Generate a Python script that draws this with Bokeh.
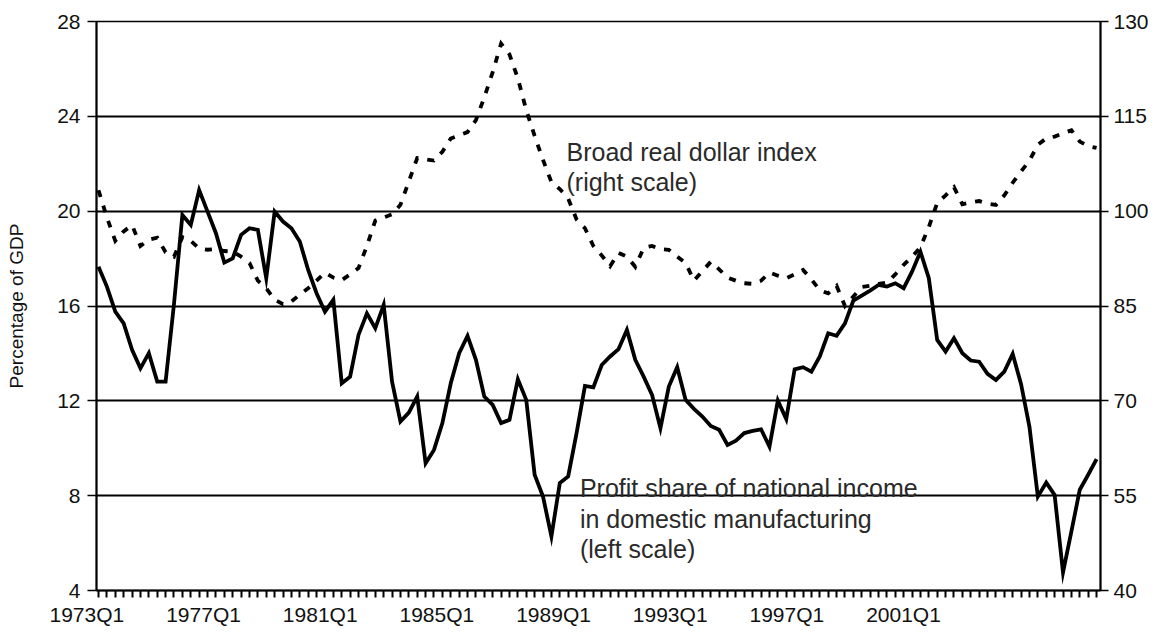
from bokeh.plotting import figure
from bokeh.models import Range1d, LinearAxis, FixedTicker, Label, ColumnDataSource
from bokeh.embed import file_html
from bokeh.resources import INLINE

# Quarterly categories 1973Q1 .. 2002Q4
quarters = [f"{y}Q{k}" for y in range(1973, 2003) for k in range(1, 5)]

# Profit share of national income in domestic manufacturing (left scale, %)
profit_share = [
    17.66, 16.82, 15.76, 15.27, 14.15, 13.37, 14.01, 12.81, 12.81, 16.09,
    19.84, 19.42, 20.89, 19.98, 19.07, 17.83, 18.01, 19.00, 19.28, 19.21,
    17.17, 19.98, 19.56, 19.28, 18.72, 17.52, 16.54, 15.76, 16.26, 12.74,
    13.02, 14.78, 15.69, 15.06, 16.05, 12.81, 11.13, 11.50, 12.18, 9.37,
    9.93, 11.06, 12.74, 14.01, 14.74, 13.73, 12.18, 11.83, 11.06, 11.20,
    12.91, 12.04, 8.88, 7.96, 6.28, 8.53, 8.81, 10.64, 12.63, 12.57,
    13.51, 13.87, 14.18, 14.99, 13.73, 13.02, 12.25, 10.85, 12.60, 13.42,
    12.04, 11.66, 11.34, 10.94, 10.78, 10.14, 10.32, 10.64, 10.73, 10.80,
    10.07, 12.01, 11.23, 13.33, 13.42, 13.23, 13.87, 14.85, 14.74, 15.27,
    16.23, 16.44, 16.65, 16.89, 16.82, 16.96, 16.75, 17.45, 18.29, 17.17,
    14.57, 14.08, 14.64, 14.01, 13.70, 13.65, 13.14, 12.88, 13.23, 13.98,
    12.70, 10.90, 7.96, 8.55, 8.03, 4.76, 6.49, 8.25, 8.88, 9.54,
]

# Broad real dollar index (right scale)
dollar_index = [
    103.3, 99.0, 95.3, 96.8, 97.8, 94.5, 95.5, 95.8, 93.5, 92.8,
    95.9, 95.3, 94.1, 93.9, 94.0, 93.7, 93.6, 92.8, 91.8, 89.0,
    87.8, 86.0, 85.3, 85.7, 86.8, 87.8, 89.0, 90.3, 89.5, 89.1,
    90.0, 91.0, 94.5, 98.5, 99.0, 99.5, 101.0, 104.7, 108.4, 108.2,
    108.0, 109.4, 111.5, 112.0, 112.5, 114.4, 118.0, 122.0, 126.5, 124.8,
    121.0, 116.0, 111.9, 108.1, 104.6, 103.5, 102.0, 98.7, 97.3, 94.5,
    93.0, 91.3, 93.4, 92.8, 91.2, 94.2, 94.5, 94.0, 93.9, 92.8,
    91.8, 89.0, 90.5, 92.0, 90.8, 89.5, 89.0, 88.6, 88.5, 89.0,
    90.3, 89.8, 89.4, 90.0, 90.7, 89.2, 87.5, 87.0, 88.2, 85.0,
    86.5, 88.0, 88.2, 88.5, 88.7, 90.0, 91.5, 92.8, 94.3, 97.5,
    101.3, 102.5, 103.8, 101.1, 101.4, 101.6, 101.2, 101.0, 102.5, 104.5,
    106.3, 108.0, 110.5, 111.5, 111.8, 112.3, 112.8, 111.0, 110.3, 110.0,
]

tick_labels = ["1973Q1", "1977Q1", "1981Q1", "1985Q1",
               "1989Q1", "1993Q1", "1997Q1", "2001Q1"]
left_ticks = [4, 8, 12, 16, 20, 24, 28]
right_ticks = [40, 55, 70, 85, 100, 115, 130]

# layout of the x labels as placed in the original (right edge of each label,
# in quarter units)
LABEL_RIGHT_START = 3.07
LABEL_STEP = 13.91
X0, X1 = -0.24, 119.47

FONT = "Liberation Sans"
TXT = "#111111"

idx = list(range(len(quarters)))
src = ColumnDataSource(dict(x=idx, q=quarters, profit=profit_share, dollar=dollar_index))

p = figure(
    frame_width=1004, frame_height=569,
    min_border_left=96, min_border_right=56, min_border_top=21, min_border_bottom=40,
    x_range=Range1d(X0, X1), y_range=Range1d(4, 28),
    output_backend="svg", toolbar_location=None,
    background_fill_color="white", border_fill_color="white",
)
p.extra_y_ranges = {"right": Range1d(40, 130)}
p.extra_x_ranges = {"labels": Range1d(X0, X1)}

# grid
p.xgrid.visible = False
p.ygrid.ticker = FixedTicker(ticks=left_ticks)
p.ygrid.grid_line_color = "black"
p.ygrid.grid_line_width = 2
p.outline_line_color = "black"
p.outline_line_width = 1.5

# x axis: a tick at every quarter (no text)
xa = p.xaxis[0]
xa.ticker = FixedTicker(ticks=idx)
xa.major_label_overrides = {i: "" for i in idx}
xa.major_label_text_font_size = "0px"
xa.major_label_standoff = 0
xa.major_tick_out = 7
xa.major_tick_in = 0
xa.minor_tick_out = 0
xa.minor_tick_in = 0
xa.major_tick_line_width = 2
xa.axis_line_width = 2

# x labels, placed where the original shows them (right-anchored)
label_pos = [LABEL_RIGHT_START + k * LABEL_STEP for k in range(len(tick_labels))]
xl = LinearAxis(x_range_name="labels", ticker=FixedTicker(ticks=label_pos))
xl.major_label_overrides = {pos: lab for pos, lab in zip(label_pos, tick_labels)}
xl.major_label_orientation = 1e-4
xl.axis_line_color = None
xl.major_tick_line_color = None
xl.minor_tick_line_color = None
xl.major_tick_out = 0
xl.major_tick_in = 0
xl.minor_tick_out = 0
xl.minor_tick_in = 0
xl.major_label_standoff = 17
xl.major_label_text_font = FONT
xl.major_label_text_font_size = "21px"
xl.major_label_text_color = TXT
p.add_layout(xl, "below")

# left y axis
ya = p.yaxis[0]
ya.ticker = FixedTicker(ticks=left_ticks)
ya.major_tick_out = 9
ya.major_tick_in = 0
ya.minor_tick_out = 0
ya.minor_tick_in = 0
ya.major_tick_line_width = 1.5
ya.axis_line_width = 2
ya.major_label_standoff = 7
ya.major_label_text_font = FONT
ya.major_label_text_font_size = "21px"
ya.major_label_text_color = TXT
ya.axis_label = "Percentage of GDP"
ya.axis_label_text_font = FONT
ya.axis_label_text_font_size = "19px"
ya.axis_label_text_font_style = "normal"
ya.axis_label_text_color = TXT
ya.axis_label_standoff = 27

# right y axis
ra = LinearAxis(y_range_name="right", ticker=FixedTicker(ticks=right_ticks))
ra.major_tick_out = 8
ra.major_tick_in = 0
ra.minor_tick_out = 0
ra.minor_tick_in = 0
ra.major_tick_line_width = 1.5
ra.axis_line_width = 2
ra.major_label_standoff = 5
ra.major_label_text_font = FONT
ra.major_label_text_font_size = "21px"
ra.major_label_text_color = TXT
p.add_layout(ra, "right")

# series
p.line("x", "dollar", source=src, y_range_name="right", line_color="black",
       line_width=3.8, line_dash="7 9", line_join="miter")
p.line("x", "profit", source=src, line_color="black", line_width=3.8, line_join="miter")

# annotations
ann = dict(text_font=FONT, text_font_size="25px", text_color="#2a2a2a",
           text_baseline="alphabetic", text_align="left")
p.add_layout(Label(x=55.8, y=22.51, text="Broad real dollar index", **ann))
p.add_layout(Label(x=55.8, y=21.24, text="(right scale)", **ann))
p.add_layout(Label(x=57.4, y=8.33, text="Profit share of national income", **ann))
p.add_layout(Label(x=57.4, y=7.02, text="in domestic manufacturing", **ann))
p.add_layout(Label(x=57.4, y=5.76, text="(left scale)", **ann))

open("out.html", "w").write(file_html(p, INLINE))
